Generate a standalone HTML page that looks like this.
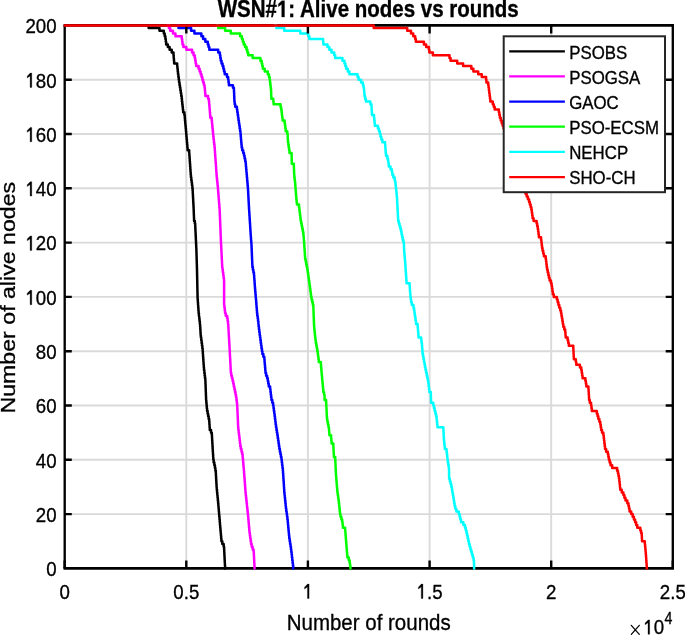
<!DOCTYPE html>
<html><head><meta charset="utf-8"><style>
html,body{margin:0;padding:0;background:#fff;width:685px;height:635px;overflow:hidden}
svg{display:block;will-change:transform}
text{font-family:"Liberation Sans",sans-serif;fill:#000;stroke:#000;stroke-width:0.3px}
.g{stroke:#dadada;stroke-width:1.9}
.c{fill:none;stroke-width:2.5;stroke-linejoin:round;stroke-linecap:round}
.tl text{font-size:18.7px}
.lt{font-size:16.85px}
.one{fill:#000;stroke:#000;stroke-width:0.3px;vector-effect:non-scaling-stroke}
</style></head><body>
<svg width="685" height="635" viewBox="0 0 685 635">
<rect x="0" y="0" width="685" height="635" fill="#fff"/>
<line x1="186.3" y1="25.4" x2="186.3" y2="568.4" class="g"/>
<line x1="307.9" y1="25.4" x2="307.9" y2="568.4" class="g"/>
<line x1="429.6" y1="25.4" x2="429.6" y2="568.4" class="g"/>
<line x1="551.2" y1="25.4" x2="551.2" y2="568.4" class="g"/>
<line x1="64.7" y1="514.1" x2="672.8" y2="514.1" class="g"/>
<line x1="64.7" y1="459.8" x2="672.8" y2="459.8" class="g"/>
<line x1="64.7" y1="405.5" x2="672.8" y2="405.5" class="g"/>
<line x1="64.7" y1="351.2" x2="672.8" y2="351.2" class="g"/>
<line x1="64.7" y1="296.9" x2="672.8" y2="296.9" class="g"/>
<line x1="64.7" y1="242.6" x2="672.8" y2="242.6" class="g"/>
<line x1="64.7" y1="188.3" x2="672.8" y2="188.3" class="g"/>
<line x1="64.7" y1="134.0" x2="672.8" y2="134.0" class="g"/>
<line x1="64.7" y1="79.7" x2="672.8" y2="79.7" class="g"/>
<path d="M63.55 568.40H673.95M63.55 25.40H673.95" stroke="#000" stroke-width="2.65" fill="none"/>
<path d="M64.70 25.40V568.40M672.80 25.40V568.40" stroke="#000" stroke-width="2.35" fill="none"/>
<path d="M147.17 25.40H148.67V28.12H159.48V30.83H163.80V33.54H164.70V36.26H165.38V38.98H165.77V41.69H166.16V44.40H167.82V47.12H169.60V49.83H171.73V52.55H173.49V55.26H173.70V57.98H173.92V60.69H174.13V63.41H177.17V66.12H177.45V68.84H177.72V71.55H178.00V74.27H178.36V76.98H178.72V79.70H179.09V82.41H179.52V85.13H179.95V87.84H180.38V90.56H180.81V93.27H181.24V95.99H181.65V98.70H181.95V101.42H182.25V104.13H182.55V106.85H182.85V109.56H183.15V112.28H184.36V115.00H184.72V117.71H184.96V120.42H185.20V123.14H185.44V125.85H185.69V128.57H185.93V131.28H186.17V134.00H186.41V136.71H186.64V139.43H186.88V142.14H187.11V144.86H187.34V147.57H187.58V150.29H189.18V153.00H189.37V155.72H189.56V158.44H189.74V161.15H189.93V163.86H190.12V166.58H190.31V169.29H190.50V172.01H190.69V174.72H190.94V177.44H191.29V180.15H191.64V182.87H191.99V185.58H192.35V188.30H192.64V191.01H192.78V193.73H192.93V196.44H193.07V199.16H193.21V201.88H193.36V204.59H193.50V207.30H193.63V210.02H193.74V212.73H193.85V215.45H193.96V218.16H194.07V220.88H194.83V223.59H195.20V226.31H195.33V229.02H195.46V231.74H195.59V234.45H195.72V237.17H195.85V239.88H195.98V242.60H196.11V245.31H196.24V248.03H196.37V250.75H196.46V253.46H196.54V256.17H196.62V258.89H196.70V261.60H196.79V264.32H196.87V267.03H196.95V269.75H197.02V272.46H197.08V275.18H197.14V277.89H197.20V280.61H197.25V283.32H197.31V286.04H197.37V288.75H197.43V291.47H197.49V294.19H197.55V296.90H197.63V299.61H197.82V302.33H198.02V305.04H198.21V307.76H198.41V310.47H198.60V313.19H198.91V315.90H199.22V318.62H199.53V321.33H199.84V324.05H200.12V326.76H200.29V329.48H200.45V332.19H200.61V334.91H200.86V337.62H201.23V340.34H201.60V343.05H201.97V345.77H202.34V348.49H202.66V351.20H202.84V353.91H203.03V356.63H203.22V359.34H203.40V362.06H203.59V364.77H203.78V367.49H204.01V370.20H204.34V372.92H204.66V375.63H204.98V378.35H205.31V381.06H205.47V383.78H205.57V386.50H205.68V389.21H205.78V391.92H205.88V394.64H205.98V397.36H206.08V400.07H206.30V402.78H206.55V405.50H206.80V408.21H207.09V410.93H207.62V413.64H208.15V416.36H208.68V419.07H209.20V421.79H209.39V424.50H209.58V427.22H209.77V429.93H211.05V432.65H211.83V435.37H211.99V438.08H212.15V440.79H212.31V443.51H212.47V446.22H212.63V448.94H212.79V451.65H212.96V454.37H213.13V457.08H213.30V459.80H213.66V462.51H214.33V465.23H214.93V467.94H215.36V470.66H215.80V473.38H215.95V476.09H216.10V478.80H216.25V481.52H216.40V484.23H216.55V486.95H216.78V489.66H217.04V492.38H217.30V495.09H217.57V497.81H217.83V500.52H218.09V503.24H218.34V505.95H218.57V508.67H218.80V511.38H219.03V514.10H219.26V516.81H219.50V519.53H219.73V522.25H219.96V524.96H220.20V527.67H220.44V530.39H220.68V533.11H220.92V535.82H221.16V538.53H221.40V541.25H222.30V543.97H223.66V546.68H224.10V549.39H224.23V552.11H224.36V554.82H224.49V557.54H224.63V560.25H224.76V562.97H224.92V565.68H225.11V568.40" stroke="#000000" class="c"/>
<path d="M167.43 25.40H168.93V28.12H170.19V30.83H172.97V33.54H175.44V36.26H181.77V38.98H182.14V41.69H182.51V44.40H183.36V47.12H186.36V49.83H192.08V52.55H193.53V55.26H194.73V57.98H195.20V60.69H195.68V63.41H196.16V66.12H198.59V68.84H199.65V71.55H200.64V74.27H201.57V76.98H202.33V79.70H203.08V82.41H203.94V85.13H204.59V87.84H204.85V90.56H205.11V93.27H205.37V95.99H208.03V98.70H208.91V101.42H209.14V104.13H209.37V106.85H209.60V109.56H209.83V112.28H210.06V115.00H210.30V117.71H211.68V120.42H211.94V123.14H212.21V125.85H212.48V128.57H212.74V131.28H213.01V134.00H213.28V136.71H213.57V139.43H213.88V142.14H214.19V144.86H214.51V147.57H214.77V150.29H214.96V153.00H215.15V155.72H215.34V158.44H215.53V161.15H215.72V163.86H215.91V166.58H216.10V169.29H216.30V172.01H216.49V174.72H216.71V177.44H217.00V180.15H217.29V182.87H217.57V185.58H217.84V188.30H218.06V191.01H218.27V193.73H218.49V196.44H218.71V199.16H218.92V201.88H219.14V204.59H219.35V207.30H219.57V210.02H219.74V212.73H219.85V215.45H219.96V218.16H220.07V220.88H220.17V223.59H220.28V226.31H220.39V229.02H220.50V231.74H220.60V234.45H220.71V237.17H220.82V239.88H220.93V242.60H221.07V245.31H221.21V248.03H221.34V250.75H221.48V253.46H221.62V256.17H221.75V258.89H221.89V261.60H222.03V264.32H222.16V267.03H222.47V269.75H222.84V272.46H223.21V275.18H223.59V277.89H223.96V280.61H224.10V283.32H224.10V286.04H224.10V288.75H224.10V291.47H224.10V294.19H224.10V296.90H224.10V299.61H224.10V302.33H224.10V305.04H224.38V307.76H224.72V310.47H225.06V313.19H225.82V315.90H227.27V318.62H227.65V321.33H228.04V324.05H228.29V326.76H228.45V329.48H228.60V332.19H228.75V334.91H228.91V337.62H229.06V340.34H229.22V343.05H229.37V345.77H229.53V348.49H229.68V351.20H229.82V353.91H229.97V356.63H230.11V359.34H230.26V362.06H230.40V364.77H230.54V367.49H230.69V370.20H230.83V372.92H231.24V375.63H231.92V378.35H232.60V381.06H233.21V383.78H233.78V386.50H234.36V389.21H234.93V391.92H235.51V394.64H236.05V397.36H236.41V400.07H236.76V402.78H237.11V405.50H237.29V408.21H237.41V410.93H237.53V413.64H237.65V416.36H237.77V419.07H237.89V421.79H238.01V424.50H238.13V427.22H238.33V429.93H238.65V432.65H238.98V435.37H239.30V438.08H239.63V440.79H239.95V443.51H240.28V446.22H240.82V448.94H241.49V451.65H242.16V454.37H242.62V457.08H242.86V459.80H243.11V462.51H243.35V465.23H243.59V467.94H243.84V470.66H244.05V473.38H244.25V476.09H244.45V478.80H244.66V481.52H244.86V484.23H245.06V486.95H245.26V489.66H245.46V492.38H245.74V495.09H246.04V497.81H246.33V500.52H246.62V503.24H246.92V505.95H247.21V508.67H247.51V511.38H247.80V514.10H248.08V516.81H248.31V519.53H248.55V522.25H248.79V524.96H249.03V527.67H249.27V530.39H249.51V533.11H249.85V535.82H250.25V538.53H250.65V541.25H251.05V543.97H251.67V546.68H252.64V549.39H253.61V552.11H253.83V554.82H253.97V557.54H254.11V560.25H254.25V562.97H254.39V565.68H254.53V568.40" stroke="#ff00ff" class="c"/>
<path d="M177.01 25.40H178.51V28.12H191.10V30.83H194.41V33.54H201.38V36.26H203.10V38.98H205.33V41.69H207.80V44.40H208.54V47.12H209.29V49.83H218.21V52.55H219.88V55.26H220.31V57.98H220.75V60.69H221.55V63.41H222.56V66.12H223.33V68.84H224.02V71.55H224.71V74.27H227.00V76.98H228.13V79.70H228.51V82.41H228.90V85.13H232.93V87.84H233.93V90.56H234.05V93.27H234.17V95.99H234.28V98.70H234.41V101.42H234.67V104.13H235.20V106.85H236.89V109.56H237.29V112.28H237.69V115.00H238.09V117.71H238.48V120.42H238.88V123.14H239.28V125.85H239.68V128.57H240.08V131.28H240.48V134.00H240.72V136.71H240.95V139.43H241.19V142.14H241.42V144.86H241.66V147.57H242.18V150.29H243.20V153.00H243.99V155.72H244.58V158.44H245.17V161.15H245.66V163.86H245.91V166.58H246.16V169.29H246.40V172.01H246.65V174.72H246.89V177.44H247.13V180.15H247.36V182.87H247.60V185.58H247.83V188.30H248.04V191.01H248.18V193.73H248.33V196.44H248.47V199.16H248.61V201.88H248.76V204.59H248.90V207.30H249.05V210.02H249.23V212.73H249.40V215.45H249.57V218.16H249.74V220.88H249.92V223.59H250.09V226.31H250.26V229.02H250.43V231.74H250.61V234.45H250.81V237.17H251.01V239.88H251.22V242.60H251.42V245.31H251.57V248.03H251.68V250.75H251.80V253.46H251.91V256.17H252.03V258.89H252.14V261.60H252.26V264.32H252.37V267.03H252.82V269.75H253.39V272.46H253.96V275.18H254.18V277.89H254.38V280.61H254.57V283.32H254.76V286.04H254.97V288.75H255.20V291.47H255.44V294.19H255.67V296.90H255.90V299.61H256.14V302.33H256.36V305.04H256.57V307.76H256.79V310.47H257.01V313.19H257.31V315.90H257.67V318.62H258.03V321.33H258.36V324.05H258.62V326.76H258.94V329.48H259.30V332.19H259.66V334.91H260.02V337.62H260.38V340.34H260.74V343.05H261.10V345.77H261.50V348.49H261.93V351.20H262.36V353.91H263.34V356.63H264.32V359.34H264.55V362.06H264.78V364.77H265.02V367.49H265.25V370.20H265.48V372.92H266.11V375.63H267.12V378.35H267.79V381.06H268.26V383.78H268.77V386.50H270.11V389.21H270.44V391.92H270.77V394.64H271.11V397.36H271.44V400.07H272.30V402.78H273.11V405.50H273.49V408.21H273.87V410.93H274.26V413.64H274.61V416.36H274.94V419.07H275.28V421.79H275.61V424.50H275.99V427.22H276.44V429.93H276.89V432.65H277.32V435.37H277.72V438.08H278.12V440.79H278.52V443.51H278.93V446.22H279.34V448.94H279.86V451.65H280.39V454.37H280.92V457.08H281.45V459.80H281.80V462.51H282.14V465.23H282.48V467.94H282.81V470.66H283.03V473.38H283.21V476.09H283.38V478.80H283.56V481.52H283.74V484.23H283.92V486.95H284.09V489.66H284.27V492.38H284.53V495.09H284.81V497.81H285.09V500.52H285.37V503.24H285.65V505.95H285.93V508.67H286.28V511.38H286.65V514.10H287.03V516.81H287.40V519.53H287.72V522.25H287.98V524.96H288.23V527.67H288.49V530.39H288.74V533.11H289.00V535.82H289.25V538.53H289.65V541.25H290.09V543.97H290.52V546.68H290.94V549.39H291.27V552.11H291.60V554.82H291.92V557.54H292.25V560.25H292.58V562.97H292.91V565.68H293.24V568.40" stroke="#0000ff" class="c"/>
<path d="M216.72 25.40H218.22V28.12H225.15V30.83H230.77V33.54H240.11V36.26H241.91V38.98H242.81V41.69H243.72V44.40H245.06V47.12H246.55V49.83H247.37V52.55H248.19V55.26H252.66V57.98H260.41V60.69H261.69V63.41H262.25V66.12H262.81V68.84H264.75V71.55H267.77V74.27H268.99V76.98H269.60V79.70H270.01V82.41H270.32V85.13H270.63V87.84H270.94V90.56H271.13V93.27H271.19V95.99H271.35V98.70H273.31V101.42H273.57V104.13H280.50V106.85H281.09V109.56H281.59V112.28H281.90V115.00H282.20V117.71H282.56V120.42H284.64V123.14H284.99V125.85H285.34V128.57H285.68V131.28H287.29V134.00H287.65V136.71H287.80V139.43H287.95V142.14H288.28V144.86H288.69V147.57H289.09V150.29H289.50V153.00H291.60V155.72H291.66V158.44H291.72V161.15H291.77V163.86H293.83V166.58H293.94V169.29H294.04V172.01H294.14V174.72H294.33V177.44H294.65V180.15H294.97V182.87H295.23V185.58H295.44V188.30H295.66V191.01H295.87V193.73H296.09V196.44H296.31V199.16H296.58V201.88H296.91V204.59H298.98V207.30H299.32V210.02H299.66V212.73H300.01V215.45H300.35V218.16H300.69V220.88H301.16V223.59H301.70V226.31H302.24V229.02H302.78V231.74H303.31V234.45H303.56V237.17H303.81V239.88H304.04V242.60H304.21V245.31H304.39V248.03H304.56V250.75H304.74V253.46H304.92V256.17H305.10V258.89H305.63V261.60H306.16V264.32H306.70V267.03H307.24V269.75H307.72V272.46H308.10V275.18H308.47V277.89H308.84V280.61H309.21V283.32H309.58V286.04H309.95V288.75H310.33V291.47H310.70V294.19H311.08V296.90H311.49V299.61H312.17V302.33H312.85V305.04H313.33V307.76H313.44V310.47H313.54V313.19H313.65V315.90H313.75V318.62H313.86V321.33H313.96V324.05H314.07V326.76H314.29V329.48H314.58V332.19H314.87V334.91H315.16V337.62H315.44V340.34H315.76V343.05H316.27V345.77H316.78V348.49H317.29V351.20H317.74V353.91H318.09V356.63H318.44V359.34H318.78V362.06H320.85V364.77H321.08V367.49H321.32V370.20H321.55V372.92H321.79V375.63H322.03V378.35H322.28V381.06H322.54V383.78H322.79V386.50H323.04V389.21H323.30V391.92H324.03V394.64H324.52V397.36H324.58V400.07H326.14V402.78H326.27V405.50H326.40V408.21H326.54V410.93H326.67V413.64H326.80V416.36H326.94V419.07H327.31V421.79H327.90V424.50H328.48V427.22H328.96V429.93H329.18V432.65H329.40V435.37H331.11V438.08H331.33V440.79H331.54V443.51H333.33V446.22H333.46V448.94H333.59V451.65H333.72V454.37H333.85V457.08H335.22V459.80H335.35V462.51H335.48V465.23H335.60V467.94H335.73V470.66H335.86V473.38H335.99V476.09H336.21V478.80H336.44V481.52H336.67V484.23H336.90V486.95H337.13V489.66H337.36V492.38H337.71V495.09H338.08V497.81H338.46V500.52H338.83V503.24H339.16V505.95H339.44V508.67H339.72V511.38H340.01V514.10H340.47V516.81H341.34V519.53H342.20V522.25H342.59V524.96H342.91V527.67H345.13V530.39H345.35V533.11H345.56V535.82H345.78V538.53H346.00V541.25H346.22V543.97H346.44V546.68H346.66V549.39H346.88V552.11H347.10V554.82H347.39V557.54H348.78V560.25H349.62V562.97H350.01V565.68H350.40V568.40" stroke="#00ff00" class="c"/>
<path d="M274.91 25.40H276.41V28.12H284.25V30.83H300.35V33.54H308.29V36.26H309.33V38.98H323.10V41.69H323.40V44.40H327.49V47.12H329.33V49.83H331.49V52.55H334.21V55.26H335.20V57.98H342.45V60.69H344.44V63.41H345.31V66.12H346.17V68.84H347.81V71.55H349.38V74.27H357.54V76.98H358.57V79.70H361.05V82.41H362.92V85.13H363.55V87.84H364.00V90.56H364.24V93.27H364.47V95.99H365.06V98.70H365.88V101.42H370.38V104.13H371.46V106.85H371.62V109.56H371.79V112.28H371.95V115.00H374.01V117.71H374.28V120.42H374.55V123.14H374.82V125.85H377.91V128.57H378.95V131.28H379.85V134.00H380.50V136.71H381.36V139.43H382.39V142.14H385.09V144.86H385.30V147.57H385.50V150.29H385.71V153.00H385.98V155.72H387.34V158.44H388.04V161.15H388.41V163.86H388.77V166.58H390.50V169.29H391.88V172.01H392.27V174.72H393.33V177.44H394.69V180.15H395.13V182.87H395.56V185.58H395.89V188.30H396.17V191.01H396.45V193.73H396.73V196.44H397.01V199.16H397.15V201.88H397.29V204.59H397.44V207.30H397.58V210.02H397.72V212.73H397.87V215.45H398.01V218.16H398.15V220.88H398.74V223.59H399.55V226.31H400.35V229.02H401.04V231.74H401.59V234.45H402.14V237.17H402.71V239.88H403.42V242.60H403.92V245.31H404.00V248.03H404.08V250.75H404.28V253.46H404.52V256.17H404.76V258.89H405.00V261.60H405.21V264.32H405.40V267.03H405.59V269.75H405.78V272.46H405.97V275.18H406.16V277.89H406.35V280.61H406.54V283.32H409.60V286.04H409.80V288.75H410.00V291.47H410.21V294.19H410.42V296.90H410.78V299.61H411.13V302.33H411.82V305.04H413.46V307.76H414.04V310.47H414.45V313.19H414.85V315.90H415.25V318.62H415.64V321.33H416.03V324.05H417.63V326.76H417.86V329.48H418.09V332.19H418.31V334.91H418.54V337.62H421.19V340.34H421.54V343.05H421.90V345.77H422.15V348.49H422.37V351.20H422.58V353.91H423.05V356.63H423.54V359.34H424.03V362.06H424.52V364.77H425.02V367.49H425.58V370.20H426.16V372.92H426.74V375.63H427.31V378.35H427.87V381.06H428.37V383.78H428.70V386.50H429.02V389.21H429.34V391.92H430.81V394.64H430.89V397.36H430.98V400.07H431.06V402.78H433.29V405.50H433.98V408.21H434.67V410.93H435.36V413.64H436.05V416.36H436.55V419.07H436.85V421.79H437.16V424.50H437.46V427.22H443.36V429.93H443.51V432.65H443.65V435.37H443.80V438.08H443.95V440.79H444.20V443.51H444.51V446.22H444.82V448.94H446.56V451.65H446.86V454.37H447.16V457.08H447.47V459.80H447.81V462.51H448.28V465.23H448.74V467.94H449.01V470.66H449.04V473.38H449.07V476.09H449.11V478.80H449.86V481.52H450.60V484.23H451.35V486.95H451.90V489.66H452.35V492.38H452.80V495.09H453.25V497.81H453.70V500.52H454.15V503.24H454.60V505.95H455.26V508.67H456.32V511.38H458.74V514.10H459.60V516.81H460.28V519.53H461.12V522.25H463.38V524.96H465.02V527.67H465.79V530.39H466.52V533.11H467.11V535.82H467.70V538.53H468.29V541.25H468.88V543.97H469.65V546.68H470.42V549.39H471.19V552.11H471.96V554.82H472.75V557.54H473.55V560.25H473.95V562.97H474.05V565.68H474.15V568.40" stroke="#00ffff" class="c"/>
<path d="M64.7 568.4v-8.0M186.3 568.4v-8.0M186.3 25.4v8.0M307.9 568.4v-8.0M307.9 25.4v8.0M429.6 568.4v-8.0M429.6 25.4v8.0M551.2 568.4v-8.0M551.2 25.4v8.0M672.8 568.4v-8.0M64.7 514.1h7.1M672.8 514.1h-7.1M64.7 459.8h7.1M672.8 459.8h-7.1M64.7 405.5h7.1M672.8 405.5h-7.1M64.7 351.2h7.1M672.8 351.2h-7.1M64.7 296.9h7.1M672.8 296.9h-7.1M64.7 242.6h7.1M672.8 242.6h-7.1M64.7 188.3h7.1M672.8 188.3h-7.1M64.7 134.0h7.1M672.8 134.0h-7.1M64.7 79.7h7.1M672.8 79.7h-7.1" stroke="#000" stroke-width="2.4" fill="none"/>
<path d="M64.70 25.40H373.70V28.12H407.21V30.83H411.00V33.54H413.24V36.26H415.19V38.98H415.84V41.69H423.93V44.40H426.14V47.12H428.85V49.83H429.34V52.55H432.88V55.26H449.50V57.98H450.53V60.69H457.20V63.41H463.11V66.12H471.34V68.84H473.39V71.55H478.23V74.27H481.77V76.98H486.10V79.70H486.40V82.41H488.21V85.13H488.56V87.84H488.91V90.56H489.26V93.27H489.61V95.99H489.96V98.70H490.31V101.42H492.74V104.13H493.72V106.85H494.69V109.56H498.85V112.28H499.34V115.00H499.85V117.71H500.78V120.42H501.71V123.14H502.64V125.85H503.55V128.57H504.47V131.28H505.38V134.00H506.30V136.71H507.21V139.43H508.13V142.14H509.04V144.86H509.96V147.57H510.87V150.29H511.79V153.00H512.71V155.72H513.62V158.44H514.54V161.15H515.45V163.86H516.37V166.58H517.28V169.29H518.20V172.01H519.11V174.72H520.03V177.44H520.94V180.15H521.86V182.87H522.77V185.58H523.69V188.30H524.61V191.01H525.52V193.73H526.66V196.44H527.90V199.16H529.09V201.88H529.86V204.59H530.63V207.30H531.40V210.02H531.82V212.73H532.19V215.45H532.56V218.16H533.60V220.88H536.63V223.59H537.19V226.31H537.75V229.02H538.14V231.74H538.51V234.45H538.88V237.17H541.04V239.88H541.37V242.60H541.70V245.31H542.03V248.03H542.53V250.75H543.21V253.46H543.90V256.17H545.70V258.89H546.03V261.60H546.35V264.32H546.67V267.03H547.08V269.75H547.70V272.46H548.32V275.18H548.94V277.89H549.62V280.61H550.94V283.32H551.60V286.04H552.01V288.75H552.42V291.47H552.83V294.19H553.80V296.90H556.87V299.61H557.64V302.33H558.41V305.04H559.27V307.76H560.28V310.47H561.02V313.19H561.47V315.90H561.92V318.62H562.37V321.33H562.82V324.05H563.27V326.76H564.26V329.48H565.22V332.19H565.46V334.91H565.70V337.62H567.64V340.34H568.22V343.05H568.80V345.77H573.27V348.49H573.41V351.20H573.56V353.91H573.70V356.63H573.85V359.34H575.85V362.06H576.23V364.77H579.92V367.49H581.27V370.20H581.76V372.92H582.16V375.63H582.57V378.35H585.41V381.06H585.87V383.78H586.34V386.50H588.45V389.21H588.61V391.92H588.77V394.64H588.93V397.36H589.09V400.07H589.76V402.78H591.05V405.50H591.44V408.21H591.84V410.93H596.84V413.64H597.58V416.36H598.34V419.07H599.38V421.79H600.29V424.50H600.72V427.22H601.14V429.93H602.05V432.65H603.37V435.37H603.70V438.08H604.03V440.79H604.36V443.51H604.69V446.22H605.02V448.94H606.14V451.65H607.83V454.37H608.35V457.08H608.86V459.80H609.65V462.51H610.56V465.23H612.18V467.94H617.13V470.66H617.95V473.38H618.47V476.09H618.98V478.80H619.33V481.52H619.63V484.23H619.92V486.95H620.22V489.66H621.78V492.38H623.38V495.09H624.38V497.81H625.51V500.52H627.32V503.24H628.48V505.95H629.02V508.67H629.57V511.38H631.20V514.10H632.69V516.81H633.90V519.53H635.09V522.25H636.18V524.96H637.27V527.67H640.32V530.39H641.09V533.11H641.73V535.82H641.88V538.53H642.03V541.25H644.82V543.97H645.08V546.68H645.34V549.39H645.60V552.11H645.82V554.82H646.02V557.54H646.21V560.25H646.41V562.97H646.61V565.68H646.80V568.40" stroke="#ff0000" class="c"/>
<g class="tl">
<g transform="translate(64.70 598.50) scale(1 1.12)"><text font-size="18.7px" text-anchor="middle">0</text></g>
<g transform="translate(186.32 598.50) scale(1 1.12)"><text font-size="18.7px" text-anchor="middle">0.5</text></g>
<g transform="translate(307.94 598.50) scale(1 1.12)"><text font-size="18.7px" text-anchor="middle"> </text><path transform="translate(-5.20 0) scale(0.00913 -0.00913)" d="M515 0L696 0L696 1409L530 1409L197 1110L197 935L515 1130Z" class="one"/></g>
<g transform="translate(429.56 598.50) scale(1 1.12)"><text font-size="18.7px" text-anchor="middle"> .5</text><path transform="translate(-13.00 0) scale(0.00913 -0.00913)" d="M515 0L696 0L696 1409L530 1409L197 1110L197 935L515 1130Z" class="one"/></g>
<g transform="translate(551.18 598.50) scale(1 1.12)"><text font-size="18.7px" text-anchor="middle">2</text></g>
<g transform="translate(672.80 598.50) scale(1 1.12)"><text font-size="18.7px" text-anchor="middle">2.5</text></g>
<g transform="translate(56.60 576.20) scale(1 1.12)"><text font-size="18.7px" text-anchor="end">0</text></g>
<g transform="translate(56.60 521.90) scale(1 1.12)"><text font-size="18.7px" text-anchor="end">20</text></g>
<g transform="translate(56.60 467.60) scale(1 1.12)"><text font-size="18.7px" text-anchor="end">40</text></g>
<g transform="translate(56.60 413.30) scale(1 1.12)"><text font-size="18.7px" text-anchor="end">60</text></g>
<g transform="translate(56.60 359.00) scale(1 1.12)"><text font-size="18.7px" text-anchor="end">80</text></g>
<g transform="translate(56.60 304.70) scale(1 1.12)"><text font-size="18.7px" text-anchor="end"> 00</text><path transform="translate(-31.19 0) scale(0.00913 -0.00913)" d="M515 0L696 0L696 1409L530 1409L197 1110L197 935L515 1130Z" class="one"/></g>
<g transform="translate(56.60 250.40) scale(1 1.12)"><text font-size="18.7px" text-anchor="end"> 20</text><path transform="translate(-31.19 0) scale(0.00913 -0.00913)" d="M515 0L696 0L696 1409L530 1409L197 1110L197 935L515 1130Z" class="one"/></g>
<g transform="translate(56.60 196.10) scale(1 1.12)"><text font-size="18.7px" text-anchor="end"> 40</text><path transform="translate(-31.19 0) scale(0.00913 -0.00913)" d="M515 0L696 0L696 1409L530 1409L197 1110L197 935L515 1130Z" class="one"/></g>
<g transform="translate(56.60 141.80) scale(1 1.12)"><text font-size="18.7px" text-anchor="end"> 60</text><path transform="translate(-31.19 0) scale(0.00913 -0.00913)" d="M515 0L696 0L696 1409L530 1409L197 1110L197 935L515 1130Z" class="one"/></g>
<g transform="translate(56.60 87.50) scale(1 1.12)"><text font-size="18.7px" text-anchor="end"> 80</text><path transform="translate(-31.19 0) scale(0.00913 -0.00913)" d="M515 0L696 0L696 1409L530 1409L197 1110L197 935L515 1130Z" class="one"/></g>
<g transform="translate(56.60 33.20) scale(1 1.12)"><text font-size="18.7px" text-anchor="end">200</text></g>
</g>
<rect x="503.7" y="36.3" width="161.3" height="155.9" fill="#fff" stroke="#262626" stroke-width="2"/>
<line x1="509.2" y1="51.3" x2="564.9" y2="51.3" stroke="#000000" stroke-width="2.2"/>
<text transform="translate(569.2 58.5) scale(1 1.12)" class="lt">PSOBS</text>
<line x1="509.2" y1="76.4" x2="564.9" y2="76.4" stroke="#ff00ff" stroke-width="2.2"/>
<text transform="translate(569.2 83.6) scale(1 1.12)" class="lt">PSOGSA</text>
<line x1="509.2" y1="101.6" x2="564.9" y2="101.6" stroke="#0000ff" stroke-width="2.2"/>
<text transform="translate(569.2 108.8) scale(1 1.12)" class="lt">GAOC</text>
<line x1="509.2" y1="126.7" x2="564.9" y2="126.7" stroke="#00ff00" stroke-width="2.2"/>
<text transform="translate(569.2 133.9) scale(1 1.12)" class="lt">PSO-ECSM</text>
<line x1="509.2" y1="151.9" x2="564.9" y2="151.9" stroke="#00ffff" stroke-width="2.2"/>
<text transform="translate(569.2 159.1) scale(1 1.12)" class="lt">NEHCP</text>
<line x1="509.2" y1="177.1" x2="564.9" y2="177.1" stroke="#ff0000" stroke-width="2.2"/>
<text transform="translate(569.2 184.2) scale(1 1.12)" class="lt">SHO-CH</text>
<g transform="translate(368.20 17.00) scale(1 1.16)"><text font-size="20.5px" text-anchor="middle" font-weight="bold">WSN# : Alive nodes vs rounds</text><path transform="translate(-91.29 0) scale(0.01001 -0.01001)" d="M478 0L759 0L759 1409L493 1409L140 1110L140 885L478 1100Z" class="one"/></g>
<text transform="translate(368.7 630.3) scale(1 1.12)" text-anchor="middle" font-size="20.5px">Number of rounds</text>
<text transform="translate(14.5 297.7) scale(1 1.13) rotate(-90)" text-anchor="middle" font-size="20.5px">Number of alive nodes</text>
<path d="M631.3 625.3L639.3 634.3M639.3 625.3L631.3 634.3" stroke="#000" stroke-width="1.25" stroke-linecap="round" fill="none"/>
<g transform="translate(643.30 634.30) scale(1 1.12)"><text font-size="18.7px"> 0</text><path transform="translate(0.00 0) scale(0.00913 -0.00913)" d="M515 0L696 0L696 1409L530 1409L197 1110L197 935L515 1130Z" class="one"/></g>
<text transform="translate(664.6 623.5) scale(1 1.12)" font-size="14.2px">4</text>
</svg>
</body></html>
